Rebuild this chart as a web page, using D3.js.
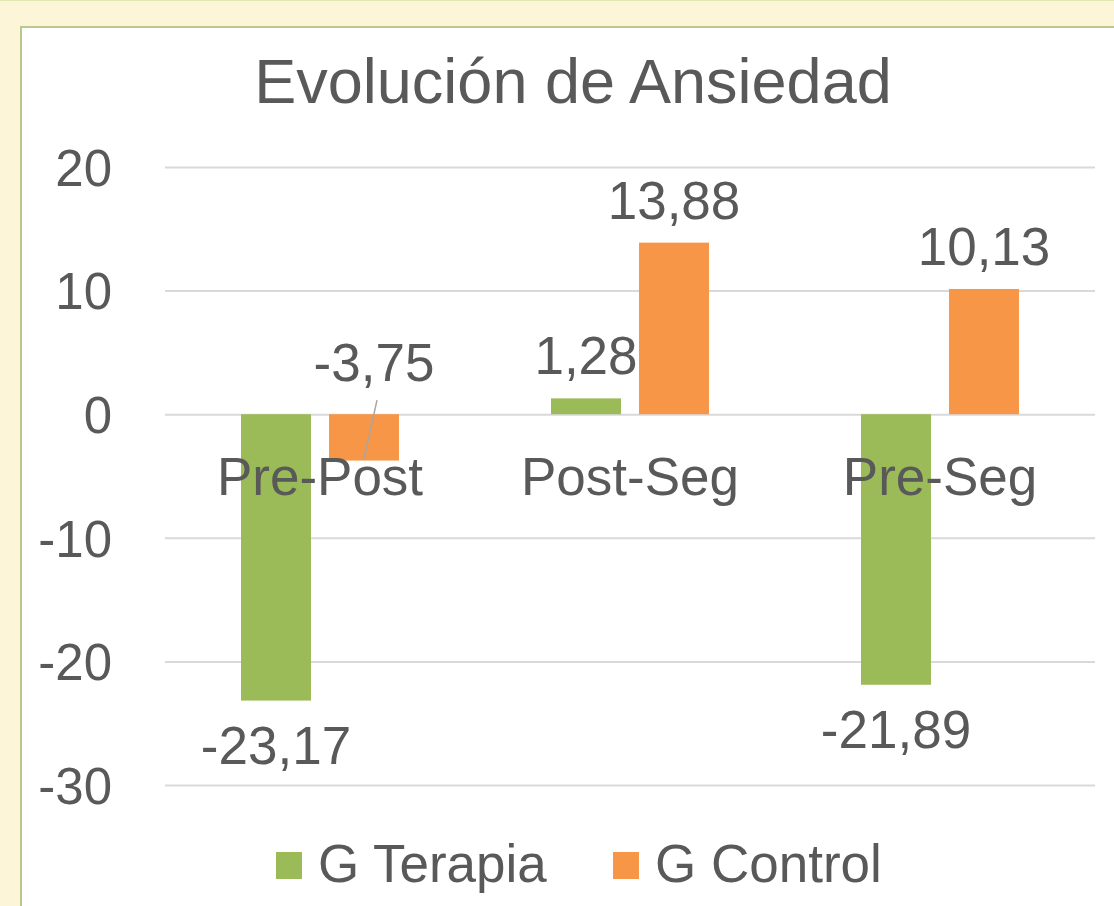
<!DOCTYPE html>
<html lang="es">
	<head>
		<meta charset="utf-8">
		<title>Evolución de Ansiedad</title>
		<script type="text/javascript" src="https://cdn.jsdelivr.net/npm/d3@7"></script>
		<style type="text/css">
			body { margin: 0; background: #fcf5d7; }
			svg { display: block; font-family: "Liberation Sans", Arial, sans-serif; }
			.axis text { fill: #595959; font-size: 51px; }
			.axis line { stroke: #d9d9d9; stroke-width: 2; }
		</style>
	</head>
	<body>
		<script type="text/javascript">

			//Data
			var categories = ["Pre-Post", "Post-Seg", "Pre-Seg"];
			var series = ["G Terapia", "G Control"];
			var terapia = [-23.17, 1.28, -21.89];
			var control = [-3.75, 13.88, 10.13];
			var yTicks = [-30, -20, -10, 0, 10, 20];

			var colors = ["#9bbb59", "#f79646"];
			var textColor = "#595959";

			var w = 1114;
			var h = 906;

			var rows = [];
			categories.forEach(function(c, i) {
				rows.push({ cat: c, s: 0, v: terapia[i] });
				rows.push({ cat: c, s: 1, v: control[i] });
			});

			// spanish style numbers, plain hyphen as minus
			var esLocale = d3.formatLocale({ decimal: ",", thousands: ".", grouping: [3], currency: ["", "€"], minus: "-" });
			var fmt = esLocale.format(".2f");

			var svg = d3.select("body")
						.append("svg")
						.attr("width", w)
						.attr("height", h);

			//Chart frame
			svg.append("rect")
			   .attr("x", 0).attr("y", 0)
			   .attr("width", w).attr("height", h)
			   .attr("fill", "#fcf5d7");
			svg.append("line")
			   .attr("x1", 0).attr("x2", w).attr("y1", 0.5).attr("y2", 0.5)
			   .attr("stroke", "#dfe8b0");
			svg.append("rect")
			   .attr("x", 21).attr("y", 27)
			   .attr("width", 1110).attr("height", 900)
			   .attr("fill", "white")
			   .attr("stroke", "#b8c88e")
			   .attr("stroke-width", 2);

			//Scales
			var x0 = d3.scaleBand()
					   .domain(categories)
					   .range([165, 1095]);

			var x1 = d3.scaleBand()
					   .domain([0, 1])
					   .range([76, 234])
					   .paddingInner(0.205);

			var y = d3.scaleLinear()
					  .domain([-30, 20])
					  .range([785, 167]);

			//Gridlines + tick labels
			var yAxis = d3.axisLeft(y)
						  .tickValues(yTicks)
						  .tickSize(-930)
						  .tickPadding(53)
						  .tickFormat(esLocale.format("d"));

			var gAxis = svg.append("g")
						   .attr("class", "axis")
						   .attr("transform", "translate(165,0)")
						   .call(yAxis);
			gAxis.select(".domain").remove();
			gAxis.selectAll("text").attr("dy", "0.36em");

			//Title
			svg.append("text")
			   .attr("x", 573)
			   .attr("y", 103)
			   .attr("text-anchor", "middle")
			   .attr("font-size", "63px")
			   .attr("fill", textColor)
			   .text("Evolución de Ansiedad");

			//Bars
			svg.selectAll("rect.bar")
			   .data(rows)
			   .enter()
			   .append("rect")
			   .attr("class", "bar")
			   .attr("x", function(d) { return x0(d.cat) + x1(d.s); })
			   .attr("y", function(d) { return y(Math.max(0, d.v)); })
			   .attr("width", x1.bandwidth())
			   .attr("height", function(d) { return Math.abs(y(d.v) - y(0)); })
			   .attr("fill", function(d) { return colors[d.s]; });

			//Category labels (sit next to the zero line)
			svg.selectAll("text.cat")
			   .data(categories)
			   .enter()
			   .append("text")
			   .attr("class", "cat")
			   .attr("x", function(d) { return x0(d) + x0.bandwidth() / 2; })
			   .attr("y", y(0) + 81)
			   .attr("text-anchor", "middle")
			   .attr("font-size", "53px")
			   .attr("fill", textColor)
			   .text(function(d) { return d; });

			//Data labels
			var small = function(d) { return d.v < 0 && d.v > -5; };

			var labelX = function(d) {
				var cx = x0(d.cat) + x1(d.s) + x1.bandwidth() / 2;
				return small(d) ? cx + 10 : cx;
			};
			var labelY = function(d) {
				if (small(d)) return y(0) - 33;
				return d.v >= 0 ? y(d.v) - 24 : y(d.v) + 63;
			};

			//leader line for the label moved off its bar
			svg.selectAll("line.leader")
			   .data(rows.filter(small))
			   .enter()
			   .append("line")
			   .attr("class", "leader")
			   .attr("x1", function(d) { return labelX(d) + 3; })
			   .attr("y1", y(0) - 14)
			   .attr("x2", function(d) { return x0(d.cat) + x1(d.s) + x1.bandwidth() / 2; })
			   .attr("y2", function(d) { return y(d.v) - 2; })
			   .attr("stroke", "#a6a6a6")
			   .attr("stroke-width", 1.5);

			svg.selectAll("text.val")
			   .data(rows)
			   .enter()
			   .append("text")
			   .attr("class", "val")
			   .attr("x", labelX)
			   .attr("y", labelY)
			   .attr("text-anchor", "middle")
			   .attr("font-size", "53px")
			   .attr("fill", textColor)
			   .text(function(d) { return fmt(d.v); });

			//Legend
			var legendX = [276, 613];
			var legend = svg.selectAll("g.legend")
							.data(series)
							.enter()
							.append("g")
							.attr("class", "legend")
							.attr("transform", function(d, i) { return "translate(" + legendX[i] + ",852)"; });

			legend.append("rect")
				  .attr("width", 26)
				  .attr("height", 27)
				  .attr("fill", function(d, i) { return colors[i]; });

			legend.append("text")
				  .attr("x", 42)
				  .attr("y", 30)
				  .attr("font-size", "53px")
				  .attr("fill", textColor)
				  .text(function(d) { return d; });

		</script>
	</body>
</html>
